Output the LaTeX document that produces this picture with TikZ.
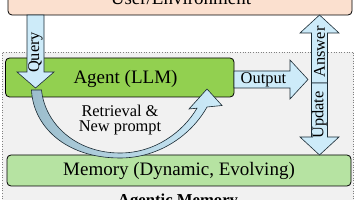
\documentclass[tikz,border=0pt]{standalone}
\usepackage{fontspec}
\setmainfont{Liberation Serif}
\definecolor{agentg}{HTML}{92D050}
\definecolor{memg}{HTML}{B6E3A2}
\definecolor{userp}{HTML}{FBE0CF}
\definecolor{bgg}{HTML}{F1F1F1}
\definecolor{arrb}{HTML}{CDEBF9}
\definecolor{arrd}{HTML}{9CBDCC}
\definecolor{edge}{HTML}{1A2A33}
\begin{document}
\begin{tikzpicture}[x=1pt,y=-1pt,
  box/.style={draw=black, line width=0.8pt, rounded corners=4pt},
  barrow/.style={draw=edge, line width=0.6pt, fill=arrb, line join=miter},
  bigtxt/.style={font=\fontsize{19}{22}\selectfont, inner sep=0pt},
  smalltxt/.style={font=\fontsize{16.4}{16}\selectfont, inner sep=0pt}]
\useasboundingbox (0,0) rectangle (356,200);
\clip (0,0) rectangle (356,200);
% background frame
\fill[bgg] (2,52) rectangle (353.5,230);
\draw[gray, dotted, line width=0.6pt] (2,230) -- (2,52) -- (353.5,52) -- (353.5,230);
% boxes
\draw[box, fill=userp] (8,-30) rectangle (352,15);
\node[bigtxt, anchor=base] (user) at (181,5) {User/Environment};
\draw[box, fill=agentg] (5.5,58) rectangle (234,97);
\node[bigtxt] (agent) at (125.5,79) {Agent (LLM)};
\draw[box, fill=memg] (7,155) rectangle (351,186);
\node[bigtxt] (mem) at (179,171) {Memory (Dynamic, Evolving)};
% output arrow
\draw[barrow] (234,71) -- (290,71) -- (290,60) -- (308,79.5) -- (290,99) -- (290,88) -- (234,88) -- cycle;
\node[smalltxt] (out) at (263.5,79.5) {Output};
% answer / update arrows
\draw[barrow] (311.5,83) -- (311.5,33) -- (300,33) -- (319.5,15) -- (339,33) -- (327.5,33) -- (327.5,83) -- cycle;
\draw[barrow] (311.5,83) -- (311.5,137) -- (300,137) -- (319.5,155) -- (339,137) -- (327.5,137) -- (327.5,83) -- cycle;
\node[smalltxt, rotate=90] (ans) at (319.5,52) {Answer};
\node[smalltxt, rotate=90] (upd) at (319.5,115) {Update};
% query arrow
\draw[barrow] (27,15) -- (27,72) -- (17,72) -- (35.5,88) -- (54,72) -- (44,72) -- (44,15) -- cycle;
\node[smalltxt, rotate=90] (query) at (35.5,52.5) {Query};
% curved retrieval arrow
\draw[draw=edge, line width=0.6pt, line join=miter, left color=arrd, right color=arrb]
  (31.5,90) .. controls (33,125) and (64,158) .. (120,158)
  .. controls (160,158) and (192,134) .. (207,107)
  -- (222,105.5) -- (207,89) -- (189,109) -- (197,108.2)
  .. controls (183,132) and (155,153) .. (120,153)
  .. controls (76,153) and (45,124) .. (41.5,90) -- cycle;
\node[smalltxt, align=center] (retr) at (120,120) {Retrieval \&\\[-0.5pt] New prompt};
% frame label
\node[font=\fontsize{16.7}{18}\selectfont\bfseries, inner sep=0pt, anchor=base] (am) at (178,205.3) {Agentic Memory};
\end{tikzpicture}
\end{document}
